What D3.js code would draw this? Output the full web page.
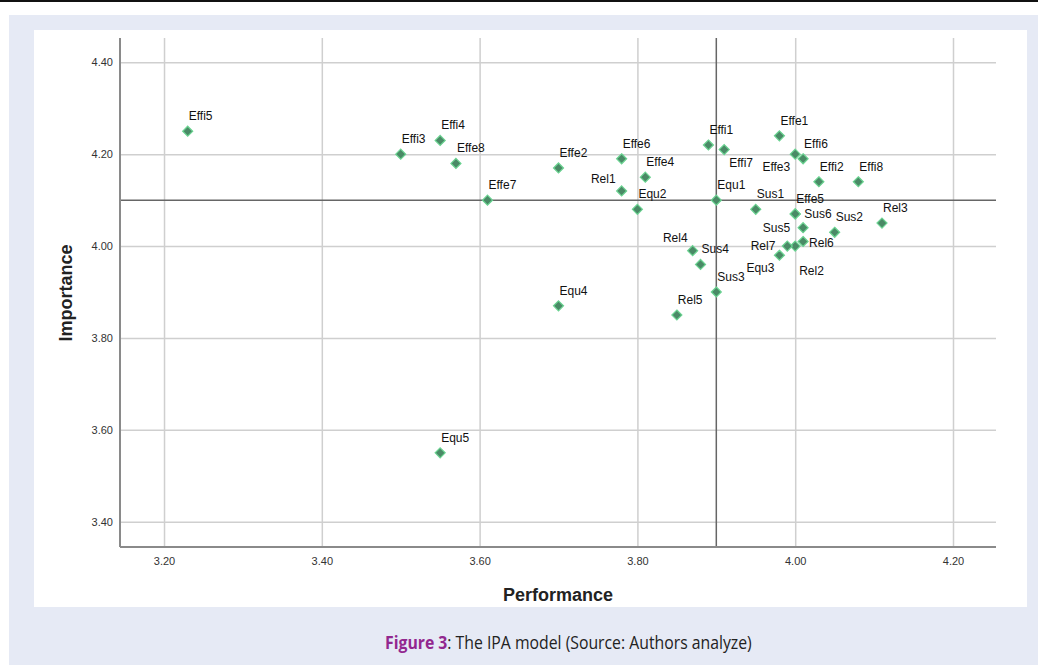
<!DOCTYPE html>
<html>
<head>
<meta charset="utf-8">
<script src="https://cdn.jsdelivr.net/npm/d3@7/dist/d3.min.js"></script>
<style>
  html, body { margin: 0; padding: 0; background: #ffffff; }
  svg { display: block; }
</style>
</head>
<body>
<svg id="chart" width="1038" height="665"></svg>
<script>
// ---- data ----
const labels = ["Effi1","Effi2","Effi3","Effi4","Effi5","Effi6","Effi7","Effi8",
                "Effe1","Effe2","Effe3","Effe4","Effe5","Effe6","Effe7","Effe8",
                "Rel1","Rel2","Rel3","Rel4","Rel5","Rel6","Rel7",
                "Equ1","Equ2","Equ3","Equ4","Equ5",
                "Sus1","Sus2","Sus3","Sus4","Sus5","Sus6"];
const performance = [3.89,4.03,3.50,3.55,3.23,4.01,3.91,4.08,
                     3.98,3.70,4.00,3.81,4.00,3.78,3.61,3.57,
                     3.78,4.00,4.11,3.87,3.85,4.01,3.99,
                     3.90,3.80,3.98,3.70,3.55,
                     3.95,4.05,3.90,3.88,4.01,4.00];
const importance  = [4.22,4.14,4.20,4.23,4.25,4.19,4.21,4.14,
                     4.24,4.17,4.20,4.15,4.07,4.19,4.10,4.18,
                     4.12,4.00,4.05,3.99,3.85,4.01,4.00,
                     4.10,4.08,3.98,3.87,3.55,
                     4.08,4.03,3.90,3.96,4.04,4.07];
const xTicks = [3.20,3.40,3.60,3.80,4.00,4.20];
const yTicks = [3.40,3.60,3.80,4.00,4.20,4.40];
const meanPerformance = 3.90;
const meanImportance = 4.10;
const xTitle = "Performance";
const yTitle = "Importance";
const captionBold = "Figure 3";
const captionRest = ": The IPA model (Source: Authors analyze)";

// ---- label placement (layout only) ----
const defaultPlace = {dx: 1, dy: -11, anchor: "start"};
const labelPlace = {
  "Effi7": {dx: 5,  dy: 17, anchor: "start"},
  "Effe3": {dx: -5, dy: 17, anchor: "end"},
  "Sus6":  {dx: 9,  dy: 4,  anchor: "start"},
  "Sus5":  {dx: -13,dy: 4,  anchor: "end"},
  "Rel7":  {dx: -12,dy: 4,  anchor: "end"},
  "Rel6":  {dx: 6,  dy: 6,  anchor: "start"},
  "Rel2":  {dx: 4,  dy: 29, anchor: "start"},
  "Equ3":  {dx: -5, dy: 17, anchor: "end"},
  "Rel4":  {dx: -5, dy: -9, anchor: "end"},
  "Rel1":  {dx: -6, dy: -8, anchor: "end"}
};

const points = labels.map((l, i) => ({label: l, x: performance[i], y: importance[i]}));

const svg = d3.select("#chart");

// page decoration
svg.append("rect").attr("x", 0).attr("y", 0).attr("width", 1038).attr("height", 2).attr("fill", "#111");
svg.append("rect").attr("x", 9).attr("y", 15).attr("width", 1040).attr("height", 660).attr("fill", "#e6eaf5");
svg.append("rect").attr("x", 34).attr("y", 30).attr("width", 993).attr("height", 577).attr("fill", "#ffffff");

// plot geometry
const pLeft = 120, pRight = 996, pTop = 38, pBottom = 547;
const x = d3.scaleLinear().domain([3.1442, 4.2545]).range([pLeft, pRight]);
const y = d3.scaleLinear().domain([3.345, 4.4529]).range([pBottom, pTop]);

// grid + axes
const xAxis = d3.axisBottom(x).tickValues(xTicks).tickFormat(d3.format(".2f"))
  .tickSizeInner(-(pBottom - pTop)).tickSizeOuter(0).tickPadding(10);
const yAxis = d3.axisLeft(y).tickValues(yTicks).tickFormat(d3.format(".2f"))
  .tickSizeInner(-(pRight - pLeft)).tickSizeOuter(0).tickPadding(7);

const gx = svg.append("g").attr("transform", `translate(0,${pBottom})`).call(xAxis);
const gy = svg.append("g").attr("transform", `translate(${pLeft},0)`).call(yAxis);

[gx, gy].forEach(g => {
  g.selectAll(".tick line").attr("stroke", "#cfcfcf").attr("stroke-width", 1.5);
  g.selectAll(".tick text").attr("fill", "#333").style("font-family", "'Liberation Sans', Arial, sans-serif").style("font-size", "11px");
  g.select(".domain").remove();
});

// reference lines
svg.append("line").attr("x1", x(meanPerformance)).attr("x2", x(meanPerformance))
  .attr("y1", pTop).attr("y2", pBottom).attr("stroke", "#666").attr("stroke-width", 1.5);
svg.append("line").attr("x1", pLeft).attr("x2", pRight)
  .attr("y1", y(meanImportance)).attr("y2", y(meanImportance)).attr("stroke", "#666").attr("stroke-width", 1.5);

// axis lines
svg.append("line").attr("x1", pLeft).attr("x2", pLeft).attr("y1", pTop).attr("y2", pBottom)
  .attr("stroke", "#8a8a8a").attr("stroke-width", 2);
svg.append("line").attr("x1", pLeft).attr("x2", pRight).attr("y1", pBottom).attr("y2", pBottom)
  .attr("stroke", "#8a8a8a").attr("stroke-width", 2);

// markers
const diamond = "M0,-5L5,0L0,5L-5,0Z";
svg.append("g").selectAll("path").data(points).join("path")
  .attr("d", diamond)
  .attr("transform", d => `translate(${x(d.x)},${y(d.y)})`)
  .attr("fill", "#4a8a66").attr("stroke", "#6ad391").attr("stroke-width", 1.2);

// point labels
svg.append("g").selectAll("text").data(points).join("text")
  .attr("x", d => x(d.x) + (labelPlace[d.label] || defaultPlace).dx)
  .attr("y", d => y(d.y) + (labelPlace[d.label] || defaultPlace).dy)
  .attr("text-anchor", d => (labelPlace[d.label] || defaultPlace).anchor)
  .style("font-family", "'Liberation Sans', Arial, sans-serif")
  .style("font-size", "12px").attr("fill", "#111")
  .text(d => d.label);

// axis titles
svg.append("text").attr("x", (pLeft + pRight) / 2).attr("y", 601).attr("text-anchor", "middle")
  .style("font-family", "'Liberation Sans', Arial, sans-serif").style("font-size", "18px").style("font-weight", "bold")
  .attr("fill", "#222").text(xTitle);
svg.append("text").attr("transform", "translate(72,293) rotate(-90)").attr("text-anchor", "middle")
  .style("font-family", "'Liberation Sans', Arial, sans-serif").style("font-size", "18px").style("font-weight", "bold")
  .attr("fill", "#222").text(yTitle);

// caption
const cap = svg.append("text").attr("x", 385).attr("y", 649)
  .style("font-family", "'Open Sans', sans-serif").style("font-size", "18px");
cap.append("tspan").style("font-weight", "bold").attr("fill", "#92278f").text(captionBold);
cap.append("tspan").attr("fill", "#222").text(captionRest);
const w = cap.node().getComputedTextLength();
const target = 367;
cap.attr("transform", `translate(385,0) scale(${target / w},1) translate(-385,0)`);
</script>
</body>
</html>
